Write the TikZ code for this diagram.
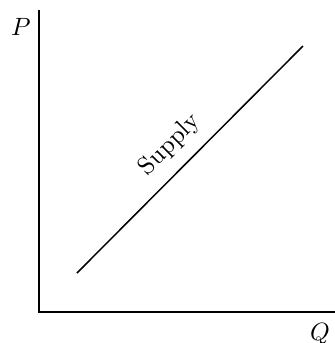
\documentclass[tikz,border=0pt]{standalone}
\begin{document}
\begin{tikzpicture}[x=0.4pt,y=0.4pt,
  axis/.style={line width=0.8pt},
  curve/.style={line width=0.6pt},
  lbl/.style={inner sep=0pt}]
\useasboundingbox (0,0) rectangle (335,343);
\coordinate (o) at (39,31);
\coordinate (ytop) at (39,333.5);
\coordinate (xend) at (335,31);
\coordinate (s1) at (77,70);
\coordinate (s2) at (303,297);
\draw[axis] (ytop) -- (o) -- (xend);
\draw[curve] (s1) -- (s2);
\node[lbl] (P) at (21,316) {$P$};
\node[lbl] (Q) at (320,9) {$Q$};
\node[lbl,rotate=45] (sup) at (170,198) {Supply};
\end{tikzpicture}
\end{document}
